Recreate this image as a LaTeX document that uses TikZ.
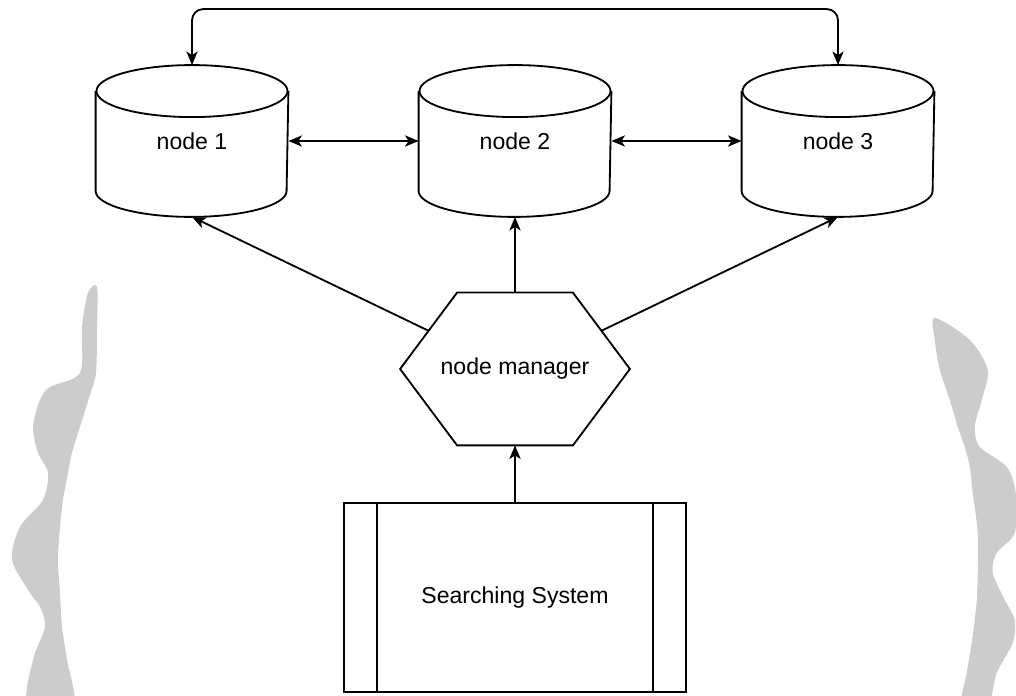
\documentclass[tikz,border=0pt]{standalone}
\usepackage{fontspec}
\setmainfont{Liberation Sans}
\usetikzlibrary{arrows.meta,calc}

\def\colsep{8.075cm}
\def\capr{0.65cm}
\def\hexcut{1.425cm}

\begin{document}
\begin{tikzpicture}[line width=1.3pt, >={Stealth[length=3.4mm,width=2.8mm,inset=0.9mm]},
    font=\fontsize{16.4}{19}\selectfont]
    \tikzstyle{store}=[rectangle, minimum width=4.775cm, minimum height=2.45cm, inner sep=0pt]
    \tikzstyle{manager}=[rectangle, minimum width=5.7cm, minimum height=3.775cm, inner sep=0pt]
    \tikzstyle{process}=[draw, rectangle, minimum width=8.55cm, minimum height=4.725cm]
    \tikzstyle{blob}=[fill=black!20, draw=none]

    \useasboundingbox (0,0) rectangle (25.4,17.375);

    % Grey shapes down both sides
    \begin{scope}[shift={(0,17.375)}, x=0.025cm, y=-0.025cm]
        \fill[blob] plot[smooth cycle, tension=0.5] coordinates {
            (97,287) (97,330) (96,373) (90,395) (80,427) (72,453) (68,473)
            (63,500) (60,527) (58,560) (60,593) (62,627) (67,660) (73,705)
            (28,705) (33,660) (45,627) (40,607) (30,593) (12,560) (20,527)
            (43,500) (48,473) (38,453) (33,427) (40,400) (50,387) (80,373)
            (82,327) (88,293)};
        \fill[blob] plot[smooth cycle, tension=0.5] coordinates {
            (935,318) (970,340) (988,370) (982,400) (975,427) (980,447)
            (1007,467) (1016,493) (1015,533) (997,553) (993,573) (1005,600)
            (1015,620) (1013,643) (997,673) (988,705) (962,705) (967,673)
            (972,643) (975,620) (977,600) (978,573) (978,533) (973,493)
            (970,467) (965,447) (958,427) (950,400) (940,370) (935,340)};
    \end{scope}

    % Draw the storage nodes as cylinders
    \foreach \name / \x in {1/0,2/1,3/2} {
        \node[store] (N-\name) at ($(4.8,13.85)+(\x*\colsep,0)$) {node \name};
        \draw (N-\name.north west) -- (N-\name.south west)
            arc[start angle=180, end angle=360, x radius=2.3875cm, y radius=\capr]
            -- (N-\name.north east);
        \draw (N-\name.north) ellipse[x radius=2.3875cm, y radius=\capr];
    }

    % Draw the manager hexagon
    \node[manager] (M) at (12.875,8.15) {node manager};
    \draw (M.west) -- ([xshift=\hexcut]M.north west) -- ([xshift=-\hexcut]M.north east)
        -- (M.east) -- ([xshift=-\hexcut]M.south east) -- ([xshift=\hexcut]M.south west) -- cycle;

    % Draw the searching system
    \node[process] (S) at (12.875,2.4375) {Searching System};
    \draw ([xshift=0.85cm]S.north west) -- ([xshift=0.85cm]S.south west);
    \draw ([xshift=-0.85cm]S.north east) -- ([xshift=-0.85cm]S.south east);

    % Links between neighbouring storage nodes
    \draw[<->] (N-1.east) -- (N-2.west);
    \draw[<->] (N-2.east) -- (N-3.west);
    \draw[<->, rounded corners=8pt] ([yshift=\capr]N-1.north) -- ++(0,1.4) -| ([yshift=\capr]N-3.north);

    % Manager to every storage node
    \draw[->] ($(M.west)!0.5!([xshift=\hexcut]M.north west)$) -- ([yshift=-\capr]N-1.south);
    \draw[->] (M.north) -- ([yshift=-\capr]N-2.south);
    \draw[->] ($(M.east)!0.5!([xshift=-\hexcut]M.north east)$) -- ([yshift=-\capr]N-3.south);

    % Searching system to the manager
    \draw[->] (S.north) -- (M.south);
\end{tikzpicture}
\end{document}
